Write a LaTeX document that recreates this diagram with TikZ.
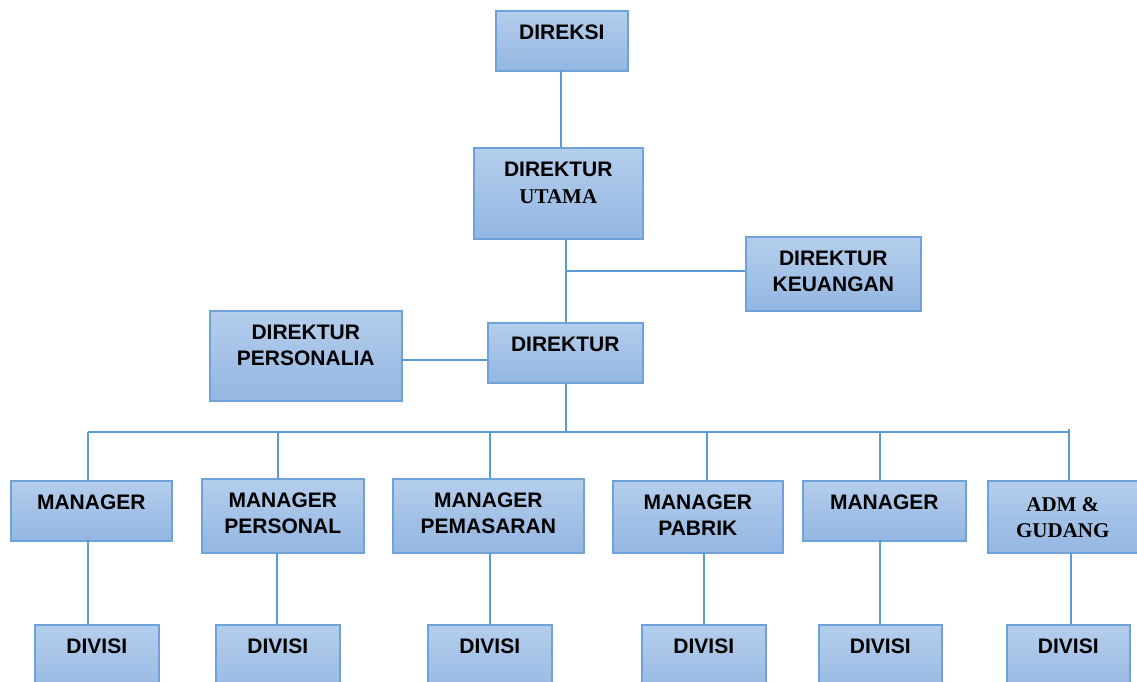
\documentclass[tikz,border=0pt]{standalone}
\usepackage{fontspec}
\setmainfont{Liberation Sans}
\newfontfamily\serifbold{Liberation Serif}
\begin{document}
\begin{tikzpicture}[x=1pt,y=-1pt,
  box/.style={draw=boxedge, line width=1.6pt, top color=boxtop, bottom color=boxbot,
    rectangle, inner sep=0pt, anchor=north west},
  lbl/.style={anchor=north, inner sep=0pt, align=center, text=black,
    font=\fontsize{21}{26}\selectfont\bfseries},
  slbl/.style={lbl, font=\fontsize{21}{26}\selectfont\serifbold\bfseries},
  link/.style={draw=linecol, line width=1.2pt}]
\definecolor{boxtop}{HTML}{B4CEEC}
\definecolor{boxbot}{HTML}{94B6E2}
\definecolor{boxedge}{HTML}{6FA2D9}
\definecolor{linecol}{HTML}{5B9BD5}
\useasboundingbox (0,0) rectangle (1137,681);
\clip (0,0) rectangle (1137,681);
% boxes: \boxat{name}{x1}{y1}{x2}{y2}
\newcommand\boxat[5]{\node[box, minimum width=#4-#2, minimum height=#5-#3] (#1) at (#2,#3) {};}
\boxat{direksi}{495}{10}{627}{70}
\boxat{utama}{473}{147}{642}{238}
\boxat{keu}{745}{236}{920}{310}
\boxat{pers}{209}{310}{401}{400}
\boxat{dir}{487}{322}{642}{382}
\boxat{m1}{10}{480}{171}{540}
\boxat{m2}{201}{478}{363}{552}
\boxat{m3}{392}{478}{583}{552}
\boxat{m4}{612}{480}{782}{552}
\boxat{m5}{802}{480}{965}{540}
\boxat{m6}{987}{480}{1137}{552}
\boxat{d1}{34}{624}{158}{700}
\boxat{d2}{215}{624}{339}{700}
\boxat{d3}{427}{624}{551}{700}
\boxat{d4}{641}{624}{765}{700}
\boxat{d5}{818}{624}{941}{700}
\boxat{d6}{1006}{624}{1129}{700}
% labels
\node[lbl] (direksi-t) at ([yshift=-15]direksi.north) {DIREKSI};
\node[lbl] (utama-t) at ([yshift=-15]utama.north) {DIREKTUR};
\node[slbl] (utama-t2) at ([yshift=-42]utama.north) {UTAMA};
\node[lbl] (keu-t) at ([yshift=-15]keu.north) {DIREKTUR\\KEUANGAN};
\node[lbl] (pers-t) at ([yshift=-15]pers.north) {DIREKTUR\\PERSONALIA};
\node[lbl] (dir-t) at ([yshift=-15]dir.north) {DIREKTUR};
\node[lbl] (m1-t) at ([yshift=-15]m1.north) {MANAGER};
\node[lbl] (m2-t) at ([yshift=-15]m2.north) {MANAGER\\PERSONAL};
\node[lbl] (m3-t) at ([yshift=-15]m3.north) {MANAGER\\PEMASARAN};
\node[lbl] (m4-t) at ([yshift=-15]m4.north) {MANAGER\\PABRIK};
\node[lbl] (m5-t) at ([yshift=-15]m5.north) {MANAGER};
\node[slbl] (m6-t) at ([yshift=-17]m6.north) {ADM \&\\GUDANG};
\foreach \i in {1,...,6}{\node[lbl] (d\i-t) at ([yshift=-15]d\i.north) {DIVISI};}
% junction points
\coordinate (top) at (561,70);
\coordinate (spine) at (566,238);
\coordinate (keuj) at (566,271);
\coordinate (bus) at (566,432);
\coordinate (persj) at (401,360);
\coordinate (b1) at (88,432);
\coordinate (b2) at (278,432);
\coordinate (b3) at (490,432);
\coordinate (b4) at (707,432);
\coordinate (b5) at (880,432);
\coordinate (b6) at (1069,432);
\coordinate (l1) at (88,540);
\coordinate (l2) at (277,552);
\coordinate (l3) at (490,552);
\coordinate (l4) at (704,552);
\coordinate (l5) at (880,540);
\coordinate (l6) at (1071,552);
% connectors
\draw[link] (top) -- (top |- utama.north);
\draw[link] (spine) -- (spine |- dir.north);
\draw[link] (keuj) -- (keuj -| keu.west);
\draw[link] (persj) -- (persj -| dir.west);
\draw[link] (spine |- dir.south) -- (bus);
\draw[link] (b1) -- (b6) -- ++(0,-3);
\foreach \i in {1,...,6}{
  \draw[link] (b\i) -- (b\i |- m\i.north);
  \draw[link] (l\i) -- (l\i |- d\i.north);
}
\end{tikzpicture}
\end{document}
